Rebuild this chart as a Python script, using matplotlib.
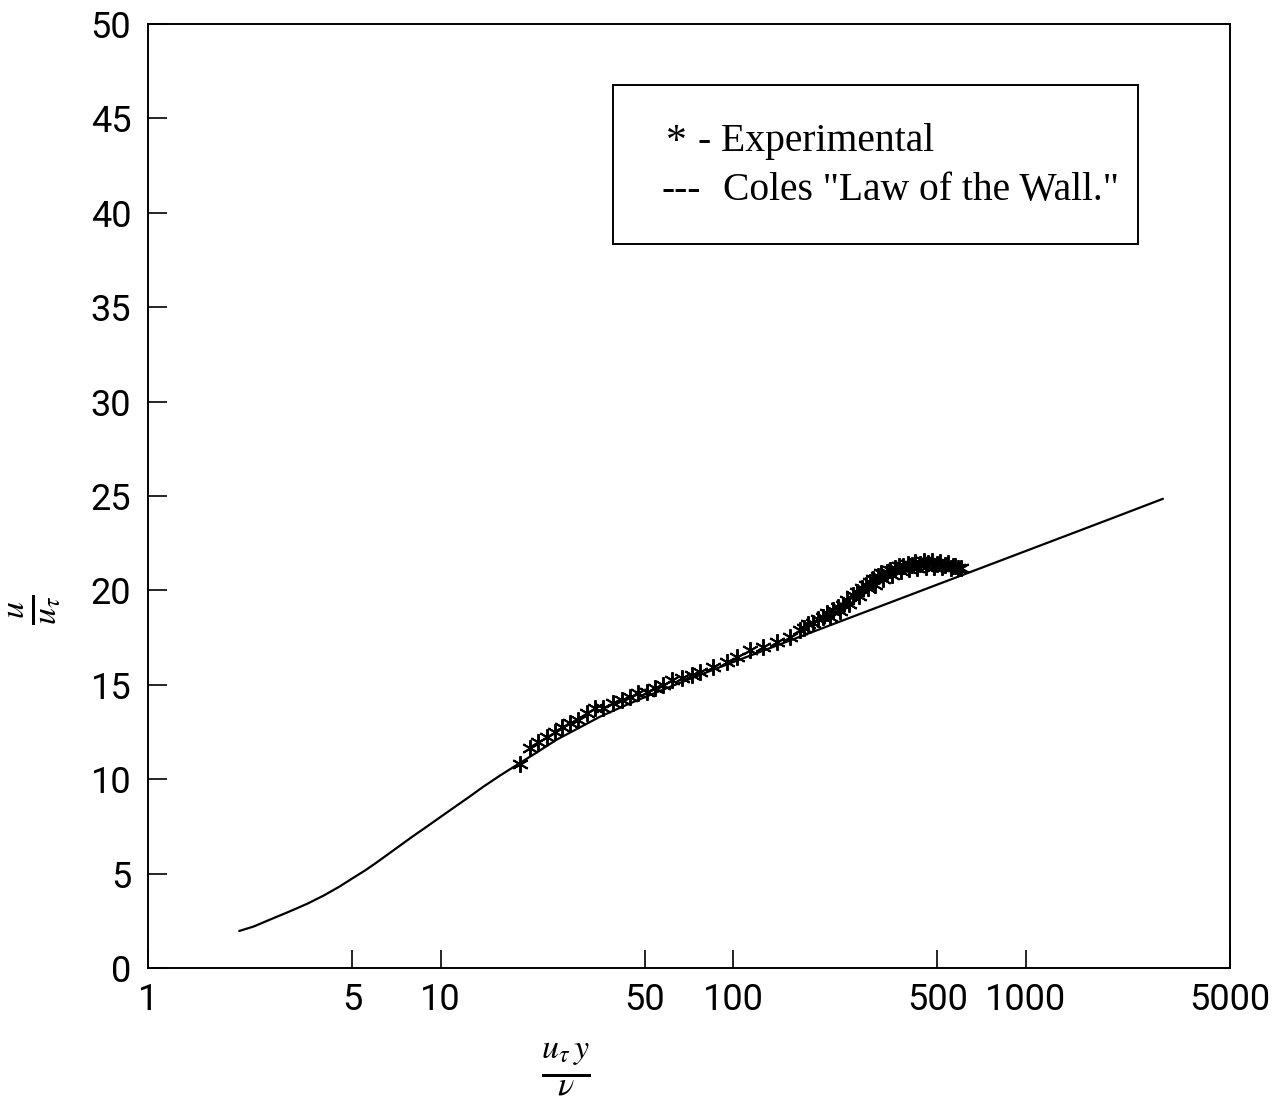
import numpy as np
import matplotlib
matplotlib.use("Agg")
import matplotlib.pyplot as plt
from matplotlib.patches import Rectangle

# Coles "law of the wall" curve
wall_x = [2.05, 2.3, 2.6, 3.0, 3.5, 4.0, 4.5, 5.0, 5.5, 6.0, 7.0, 8.0, 9.0, 10,
          11, 12.5, 14, 16, 18, 21, 25, 30, 35, 42, 50, 60, 75, 100, 200, 400,
          700, 1000, 2000, 2950]
wall_y = [1.96, 2.2, 2.55, 2.95, 3.4, 3.85, 4.3, 4.75, 5.15, 5.55, 6.3, 6.95,
          7.5, 8.0, 8.45, 9.05, 9.6, 10.2, 10.7, 11.35, 12.1, 12.75, 13.3, 13.85,
          14.35, 14.85, 15.45, 16.2, 17.97, 19.74, 21.17, 22.08, 23.85, 24.85]

# experimental points
exp_x = [18.7, 20.2, 21.6, 23.1, 24.6, 26.0, 27.7, 29.5, 31.7, 33.7, 35.9, 38.9,
         41.8, 44.5, 47.3, 50.8, 54.1, 57.6, 61.8, 66.9, 72.4, 77.1, 85.4, 95.3,
         103, 114, 127, 141, 157, 169, 175, 180, 188, 195, 203, 210, 215, 220,
         228, 232, 238, 245, 250, 257, 265, 270, 276, 285, 290, 294, 300, 305,
         313, 320, 325, 336, 345, 350, 358, 370, 375, 381, 395, 400, 409, 420,
         425, 436, 450, 455, 464, 480, 485, 498, 510, 520, 531, 545, 555, 565,
         575, 588, 600]
exp_y = [10.8, 11.65, 11.97, 12.24, 12.5, 12.76, 12.98, 13.14, 13.5, 13.77, 13.77,
         14.04, 14.19, 14.35, 14.57, 14.62, 14.83, 14.99, 15.25, 15.36, 15.52,
         15.68, 15.94, 16.21, 16.47, 16.84, 17.0, 17.27, 17.53, 17.9, 18.0, 18.2,
         18.27, 18.5, 18.59, 18.8, 18.6, 18.96, 19.1, 18.9, 19.23, 19.5, 19.3,
         19.76, 19.9, 19.7, 20.13, 20.3, 20.1, 20.44, 20.6, 20.3, 20.76, 20.9,
         20.6, 20.97, 21.1, 20.8, 21.19, 21.3, 21.0, 21.29, 21.4, 21.15, 21.35,
         21.5, 21.2, 21.4, 21.55, 21.25, 21.45, 21.55, 21.25, 21.4, 21.5, 21.25,
         21.35, 21.45, 21.2, 21.29, 21.3, 21.19, 21.2]

xticks = [1, 5, 10, 50, 100, 500, 1000, 5000]
yticks = list(range(0, 51, 5))

serif_font = ["Liberation Serif", "DejaVu Serif"]
plt.rcParams["mathtext.fontset"] = "stix"

fig = plt.figure(figsize=(12.75, 11.03), dpi=100)
ax = fig.add_axes([0.1161, 0.1224, 0.8486, 0.8559])

ax.plot(wall_x, wall_y, color="black", lw=1.6, solid_capstyle="round")
ax.plot(exp_x, exp_y, linestyle="none", marker=(6, 2, 0), markersize=12,
        markeredgewidth=1.4, color="black")

ax.set_xscale("log")
ax.set_xlim(1, 5000)
ax.set_ylim(0, 50)
ax.set_xticks(xticks)
ax.set_xticklabels([str(t) for t in xticks])
ax.xaxis.set_minor_locator(matplotlib.ticker.NullLocator())
ax.set_yticks(yticks)
ax.tick_params(axis="both", direction="in", width=1.2, colors="black")
ax.tick_params(axis="y", length=14, pad=12, labelsize=26)
ax.tick_params(axis="x", length=13, pad=10, labelsize=26)
for lab in ax.get_xticklabels() + ax.get_yticklabels():
    lab.set_family(["Roboto", "DejaVu Sans"])
    lab.set_fontweight("normal")
for sp in ax.spines.values():
    sp.set_linewidth(1.4)

# legend box drawn by hand, like the original
ax.add_patch(Rectangle((0.4298, 0.767), 0.4852, 0.1684, transform=ax.transAxes,
                       fill=False, lw=1.4, edgecolor="black"))
ax.text(0.479, 0.874, "*", transform=ax.transAxes, fontsize=30,
        family=serif_font, va="center")
ax.text(0.508, 0.875, "- Experimental", transform=ax.transAxes, fontsize=28.5,
        family=serif_font, va="center")
ax.text(0.475, 0.824, "---", transform=ax.transAxes, fontsize=28.5,
        family=serif_font, va="center")
ax.text(0.531, 0.824, 'Coles "Law of the Wall."', transform=ax.transAxes,
        fontsize=28.5, family=serif_font, va="center")

fig.text(0.444, 0.031, r"$\frac{u_\tau\, y}{\nu}$", fontsize=35,
         ha="center", va="center")
fig.text(0.027, 0.447, r"$\frac{u}{u_\tau}$", fontsize=35, rotation=90,
         ha="center", va="center")

fig.savefig("out.png", dpi=100)
